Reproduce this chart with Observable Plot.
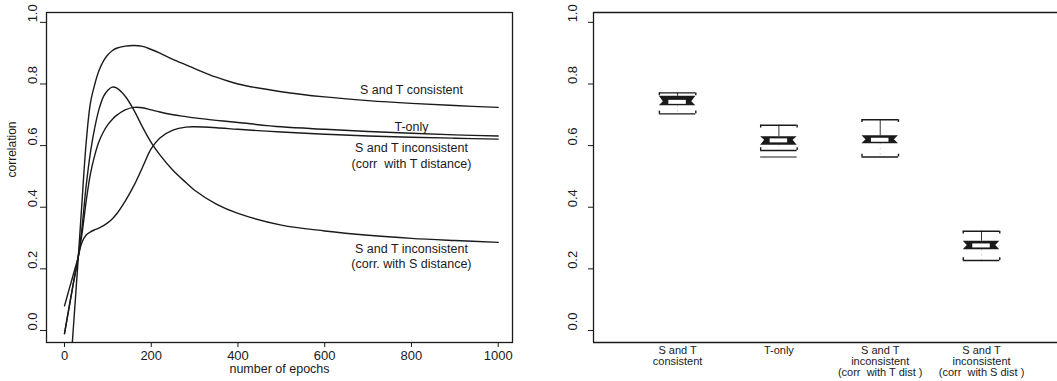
<!DOCTYPE html>
<html><head><meta charset="utf-8">
<script src="https://cdn.jsdelivr.net/npm/d3@7"></script>
<script src="https://cdn.jsdelivr.net/npm/@observablehq/plot@0.6"></script>
<style>
html,body{margin:0;padding:0;background:#fff;overflow:hidden;}
#wrap{display:flex;width:1057px;height:381px;overflow:hidden;}
svg{display:block;flex:none}
</style></head><body><div id="wrap"></div>
<script>
// ---------- Left panel data ----------
const epochs = [0,10,20,30,40,50,60,70,80,90,100,110,120,140,160,180,200,220,250,280,300,350,400,500,600,700,800,900,1000];
const stConsistent = [-0.40,-0.20,0.00,0.20,0.41,0.61,0.74,0.80,0.845,0.875,0.895,0.908,0.916,0.923,0.925,0.922,0.912,0.90,0.88,0.862,0.85,0.822,0.80,0.775,0.758,0.746,0.737,0.73,0.724];
const tOnly = [-0.01,0.07,0.15,0.225,0.31,0.42,0.51,0.57,0.615,0.645,0.668,0.685,0.698,0.716,0.724,0.723,0.716,0.709,0.70,0.694,0.69,0.682,0.675,0.661,0.653,0.646,0.64,0.635,0.631];
const stInconsT = [0.08,0.13,0.18,0.23,0.285,0.31,0.32,0.327,0.333,0.34,0.35,0.362,0.378,0.42,0.47,0.53,0.59,0.625,0.65,0.66,0.661,0.658,0.653,0.644,0.637,0.631,0.627,0.624,0.621];
const stInconsS = [-0.01,0.07,0.15,0.225,0.33,0.47,0.58,0.66,0.72,0.76,0.78,0.79,0.787,0.76,0.715,0.66,0.61,0.57,0.52,0.48,0.455,0.41,0.38,0.342,0.323,0.309,0.299,0.292,0.286];
const seriesNames = ["S and T consistent","T-only","S and T inconsistent\n(corr  with T distance)","S and T inconsistent\n(corr. with S distance)"];
const seriesValues = [stConsistent, tOnly, stInconsT, stInconsS];
const labelEpoch = 800;
const xTicks = [0,200,400,600,800,1000];
const yTicks = [0,0.2,0.4,0.6,0.8,1.0];

// ---------- Right panel data ----------
const categories = ["S and T\nconsistent","T-only","S and T\ninconsistent\n(corr  with T dist )","S and T\ninconsistent\n(corr  with S dist )"];
const whiskerHigh = [0.771,0.666,0.684,0.322];
const q3 = [0.760,0.629,0.632,0.290];
const median = [0.742,0.617,0.619,0.276];
const q1 = [0.729,0.601,0.606,0.262];
const whiskerLow = [0.703,0.584,0.563,0.227];
const outlierCat = [2];
const outlierVal = [0.563];

// ---------- build tables ----------
const lineRows = seriesNames.flatMap((s, k) => epochs.map((e, i) => ({series: s, epoch: e, value: seriesValues[k][i]})));
const labelRows = seriesNames.map((s, k) => ({text: s, epoch: labelEpoch, value: seriesValues[k][epochs.indexOf(labelEpoch)]}));
const labelDy = [-14, -7, 18, 17];

const ink = "#1a1a1a";
const font = "'Liberation Sans', Arial, Helvetica, sans-serif";
const yDomain = [-0.039, 1.032];
const noLabel = () => "";

const left = Plot.plot({
  width: 525, height: 381,
  marginLeft: 46, marginRight: 13, marginTop: 12, marginBottom: 39,
  x: {domain: [-41.5, 1033], axis: null},
  y: {domain: yDomain, axis: null},
  style: {fontFamily: font, fontSize: "12px", color: ink, background: "white"},
  marks: [
    Plot.axisX({ticks: xTicks, tickSize: 5, tickPadding: 3, tickFormat: d => String(d), label: null, stroke: ink, fontSize: 13}),
    Plot.text(["number of epochs"], {frameAnchor: "bottom", dy: 30, text: d => d, fontSize: 12.5, fill: ink}),
    Plot.axisY({ticks: yTicks, tickSize: 6, tickFormat: noLabel, label: null, stroke: ink}),
    Plot.text(yTicks, {y: d => d, frameAnchor: "left", dx: -14, rotate: -90, text: d3.format(".1f"), fontSize: 13, fill: ink}),
    Plot.text(["correlation"], {frameAnchor: "left", dx: -34, rotate: -90, text: d => d, fontSize: 12, fill: ink}),
    Plot.line(lineRows, {x: "epoch", y: "value", z: "series", stroke: ink, strokeWidth: 1.4, curve: "catmull-rom", clip: true}),
    ...labelRows.map((r, k) => Plot.text([r], {x: "epoch", y: "value", text: "text", dy: labelDy[k], lineHeight: 1.25, fontSize: 12.5, fill: ink})),
    Plot.frame({stroke: ink, strokeWidth: 1.3})
  ]
});

// right panel
const idx = categories.map((c, i) => i);
const w = 0.18;
const boxRows = idx.flatMap(i => [
  {i, y: q1[i], x1: i + 1 - w, x2: i + 1 + w},
  {i, y: median[i], x1: i + 1 - w * 0.78, x2: i + 1 + w * 0.78},
  {i, y: q3[i], x1: i + 1 - w, x2: i + 1 + w}
]);
const capRows = idx.flatMap(i => [
  {i, y: whiskerHigh[i], dir: -1},
  {i, y: whiskerLow[i], dir: 1}
]);
const capEnds = capRows.flatMap(r => [{...r, x: r.i + 1 - w}, {...r, x: r.i + 1 + w}]);
const xDomainR = [0.17, 4.75];

const right = Plot.plot({
  width: 532, height: 381,
  marginLeft: 68, marginRight: 0, marginTop: 12, marginBottom: 39,
  x: {domain: xDomainR, axis: null},
  y: {domain: yDomain, axis: null},
  style: {fontFamily: font, fontSize: "12px", color: ink, background: "white"},
  marks: [
    Plot.ruleY([yDomain[0], yDomain[1]], {stroke: ink, strokeWidth: 1.3}),
    Plot.ruleX([xDomainR[0]], {stroke: ink, strokeWidth: 1.3}),
    Plot.axisY({ticks: yTicks, tickSize: 5, tickFormat: noLabel, label: null, stroke: ink}),
    Plot.text(yTicks, {y: d => d, frameAnchor: "left", dx: -21, rotate: -90, text: d3.format(".1f"), fontSize: 13, fill: ink}),
    Plot.text(idx, {x: i => i + 1, frameAnchor: "bottom", dy: 4, lineAnchor: "top", text: i => categories[i], lineHeight: 1.0, fontSize: 11, fill: ink}),
    // whiskers
    Plot.ruleX(idx, {x: i => i + 1, y1: i => q3[i], y2: i => whiskerHigh[i], stroke: ink, strokeWidth: 0.9}),
    Plot.ruleX(idx, {x: i => i + 1, y1: i => q1[i], y2: i => whiskerLow[i], stroke: "#888", strokeWidth: 0.6, strokeDasharray: "1,4"}),
    // caps (staples)
    Plot.ruleY(capRows, {y: "y", x1: r => r.i + 1 - w, x2: r => r.i + 1 + w, stroke: ink, strokeWidth: 1.4}),
    Plot.ruleX(capEnds, {x: "x", y1: "y", y2: r => r.y + r.dir * 0.009, stroke: ink, strokeWidth: 1.4}),
    // outliers
    Plot.ruleY(outlierVal, {y: d => d, x1: (d, j) => outlierCat[j] - w, x2: (d, j) => outlierCat[j] + w, stroke: ink, strokeWidth: 1.2}),
    // notched box
    Plot.areaX(boxRows, {y: "y", x1: "x1", x2: "x2", z: "i", fill: ink, curve: "linear"}),
    // median (white)
    Plot.ruleY(idx, {y: i => median[i], x1: i => i + 1 - w * 0.48, x2: i => i + 1 + w * 0.48, stroke: "white", strokeWidth: 4})
  ]
});

document.getElementById("wrap").append(left, right);
</script>
</body></html>
